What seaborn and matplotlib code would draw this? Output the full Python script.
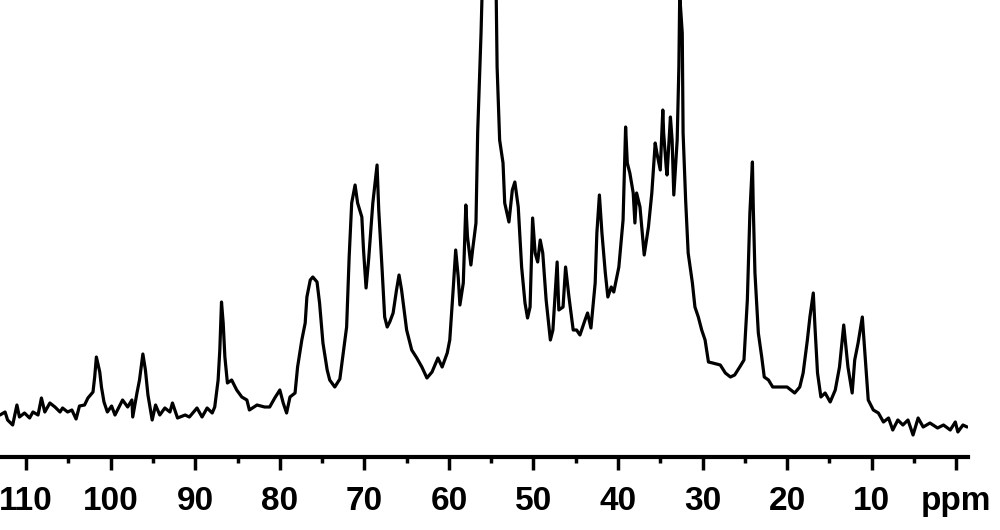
import numpy as np
import matplotlib
matplotlib.use("Agg")
import matplotlib.pyplot as plt
import seaborn as sns
from matplotlib.ticker import MultipleLocator, FixedLocator

# Espectro 13C (desplazamiento en ppm, intensidad en unidades arbitrarias)
shift_ppm = [
    113.1, 112.5, 112.2, 111.6, 111.1, 110.8, 110.2, 109.6, 109.2, 108.6,
    108.2, 107.8, 107.2, 106.6, 106.0, 105.7, 105.1, 104.6, 104.1, 103.7,
    103.1, 102.7, 102.1, 101.9, 101.7, 101.3, 101.1, 100.8, 100.4, 99.9,
    99.5, 98.9, 98.6, 98.0, 97.5, 97.4, 96.9, 96.6, 96.2, 95.9,
    95.6, 95.1, 94.7, 94.2, 93.6, 93.0, 92.7, 92.1, 91.2, 90.7,
    89.8, 89.2, 88.6, 88.0, 87.7, 87.3, 87.1, 86.9, 86.7, 86.5,
    86.2, 85.7, 85.1, 84.5, 83.9, 83.6, 82.7, 81.8, 81.2, 80.6,
    80.0, 79.6, 79.2, 78.8, 78.2, 77.9, 77.4, 77.0, 76.8, 76.4,
    76.1, 75.6, 75.3, 74.9, 74.4, 74.1, 73.5, 72.9, 72.5, 72.1,
    71.8, 71.5, 71.1, 70.8, 70.3, 70.1, 69.8, 69.5, 69.0, 68.5,
    68.3, 67.9, 67.6, 67.3, 67.0, 66.6, 66.2, 65.9, 65.6, 65.0,
    64.4, 63.8, 63.2, 62.6, 62.0, 61.3, 60.8, 60.2, 59.9, 59.5,
    59.2, 58.9, 58.7, 58.3, 58.0, 57.8, 57.4, 57.2, 56.8, 56.6,
    56.2, 56.1, 55.3, 54.4, 54.3, 54.0, 53.6, 53.4, 52.9, 52.5,
    52.2, 51.8, 51.4, 51.0, 50.7, 50.4, 50.1, 49.8, 49.5, 49.2,
    48.9, 48.5, 48.0, 47.7, 47.2, 47.0, 46.5, 46.2, 45.8, 45.3,
    44.9, 44.5, 43.9, 43.6, 43.2, 42.7, 42.5, 42.2, 41.9, 41.5,
    41.2, 40.8, 40.5, 40.1, 39.9, 39.4, 39.1, 38.9, 38.6, 38.2,
    38.0, 37.8, 37.4, 36.9, 36.4, 36.0, 35.6, 35.4, 35.0, 34.7,
    34.6, 34.3, 34.2, 33.8, 33.6, 33.4, 33.0, 32.8, 32.7, 32.4,
    32.3, 32.0, 31.7, 31.2, 30.9, 30.5, 30.1, 29.7, 29.3, 28.8,
    27.9, 27.3, 26.7, 26.2, 25.6, 25.1, 24.7, 24.4, 24.1, 24.0,
    23.8, 23.4, 23.0, 22.7, 22.2, 21.7, 20.8, 20.0, 19.1, 18.5,
    18.1, 17.6, 17.3, 16.9, 16.7, 16.4, 16.0, 15.5, 14.9, 14.3,
    13.8, 13.3, 12.8, 12.3, 12.0, 11.6, 11.1, 10.8, 10.4, 9.8,
    9.2, 8.6, 8.0, 7.5, 6.9, 6.3, 5.7, 5.1, 4.5, 3.9,
    3.1, 2.2, 1.5, 0.7, 0.1, -0.2, -0.8, -1.3,
]
intensity = [
    42, 45, 37, 32, 52, 40, 44, 39, 45, 42,
    59, 45, 54, 50, 45, 49, 45, 47, 38, 51,
    52, 59, 65, 80, 100, 85, 70, 55, 45, 51,
    42, 52, 57, 50, 57, 40, 64, 77, 103, 87,
    62, 37, 52, 42, 49, 45, 54, 39, 42, 40,
    49, 40, 49, 44, 50, 77, 107, 155, 134, 100,
    74, 77, 67, 60, 57, 47, 52, 50, 50, 59,
    67, 54, 44, 60, 64, 90, 117, 134, 160, 177,
    180, 175, 154, 114, 87, 77, 70, 78, 104, 130,
    200, 254, 272, 254, 240, 207, 169, 197, 254, 292,
    247, 187, 140, 130, 135, 144, 167, 182, 167, 127,
    107, 99, 90, 79, 85, 99, 90, 104, 117, 167,
    207, 180, 152, 174, 252, 220, 192, 207, 234, 324,
    424, 457, 587, 457, 390, 317, 294, 254, 235, 267,
    275, 250, 190, 154, 139, 150, 239, 204, 195, 217,
    204, 157, 117, 127, 195, 147, 150, 190, 160, 127,
    127, 122, 137, 144, 129, 174, 224, 262, 224, 184,
    160, 170, 165, 182, 190, 237, 330, 294, 284, 264,
    234, 264, 250, 202, 230, 264, 314, 304, 287, 347,
    324, 290, 282, 340, 317, 262, 317, 390, 462, 424,
    324, 257, 204, 174, 150, 140, 127, 117, 95, 94,
    92, 84, 80, 82, 90, 97, 157, 244, 295, 250,
    184, 124, 100, 80, 77, 70, 70, 70, 64, 70,
    84, 117, 140, 164, 130, 84, 60, 64, 55, 67,
    90, 132, 90, 64, 97, 114, 140, 104, 57, 47,
    44, 35, 39, 27, 37, 32, 37, 22, 39, 30,
    34, 29, 32, 27, 35, 25, 32, 30,
]
major_ticks = [110, 100, 90, 80, 70, 60, 50, 40, 30, 20, 10, 0]
major_labels = ["110", "100", "90", "80", "70", "60", "50", "40", "30", "20", "10", "ppm"]

sns.set_style("ticks")
plt.rcParams["font.family"] = ["Liberation Sans", "DejaVu Sans"]

fig = plt.figure(figsize=(10, 5.3), dpi=100)
ax = fig.add_axes([0.0, 1 - 457 / 530, 0.968, 457 / 530])

sns.lineplot(x=shift_ppm, y=intensity, sort=False, estimator=None,
             color="black", linewidth=2.3, ax=ax)

ax.set_xlim(113.1, -1.4)
ax.set_ylim(0, 457)

for s in ["left", "right", "top"]:
    ax.spines[s].set_visible(False)
ax.spines["bottom"].set_linewidth(3)
ax.spines["bottom"].set_color("black")
ax.set_yticks([])
ax.xaxis.set_major_locator(FixedLocator(major_ticks))
ax.set_xticklabels(major_labels, fontsize=24, fontweight="bold", color="black")
ax.xaxis.set_minor_locator(MultipleLocator(5))
ax.tick_params(axis="x", which="major", direction="out", length=9, width=2.5,
               pad=12, color="black")
ax.tick_params(axis="x", which="minor", direction="out", length=4.5, width=2.5,
               color="black")
ax.set_xlabel("")
ax.set_ylabel("")
ax.patch.set_alpha(0)

fig.savefig("out.png", dpi=100, facecolor="white")
